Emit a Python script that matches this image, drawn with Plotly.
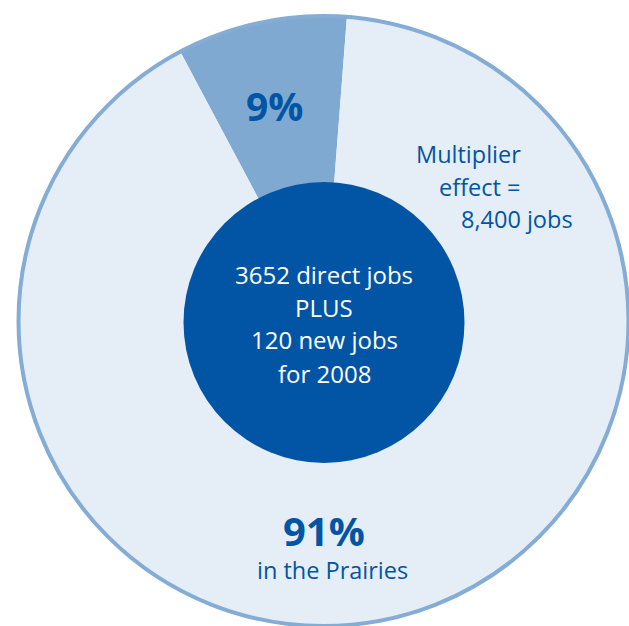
import plotly.graph_objects as go

# ---- data ----
labels = ["Outside the Prairies", "In the Prairies"]
values = [9, 91]
slice_colors = ["#80a9d1", "#e5eef7"]
pct_labels = ["9%", "91%"]
prairie_caption = "in the Prairies"
multiplier_lines = ["Multiplier", "effect =", "8,400 jobs"]
center_lines = ["3652 direct jobs", "PLUS", "120 new jobs", "for 2008"]

W, H = 629, 626
TEXT_BLUE = "#0055a5"
FONT = "Open Sans"


def px(x):
    return x / W


def py(y):
    return 1 - y / H


# pie geometry (pixels)
cx, cy, r = 323.5, 321.0, 305.0

fig = go.Figure()
fig.add_trace(go.Pie(
    labels=labels,
    values=values,
    sort=False,
    direction="clockwise",
    rotation=-28,
    marker=dict(colors=slice_colors, line=dict(width=0)),
    textinfo="none",
    hoverinfo="label+percent",
    showlegend=False,
    domain=dict(x=[px(cx - r - 0.5), 1.0], y=[0.0, py(cy - r)]),
))

shapes = [
    # outer border ring
    dict(type="circle", xref="paper", yref="paper",
         x0=px(cx - r), x1=px(cx + r), y0=py(cy + r), y1=py(cy - r),
         line=dict(color="#84acd5", width=4), fillcolor="rgba(0,0,0,0)"),
    # inner dark disc
    dict(type="circle", xref="paper", yref="paper",
         x0=px(183.5), x1=px(464.5), y0=py(463), y1=py(182),
         line=dict(width=0), fillcolor="#0255a5"),
]

annotations = []


def add_text(text, x, y, size, color, bold=False, xanchor="center"):
    annotations.append(dict(
        text=f"<b>{text}</b>" if bold else text,
        x=px(x), y=py(y), xref="paper", yref="paper",
        xanchor=xanchor, yanchor="middle", showarrow=False,
        font=dict(family=FONT, size=size, color=color),
    ))


add_text(pct_labels[0], 274.5, 105, 39, TEXT_BLUE, bold=True)
add_text(pct_labels[1], 324, 530, 40, TEXT_BLUE, bold=True)
add_text(prairie_caption, 332.5, 570, 23.5, TEXT_BLUE)

for line, x, y in zip(multiplier_lines, [468, 479.5, 517], [154, 187, 219]):
    add_text(line, x, y, 23.5, TEXT_BLUE)

for line, y in zip(center_lines, [274, 307, 340, 373]):
    add_text(line, 324, y, 24, "white")

fig.update_layout(
    width=W, height=H,
    margin=dict(l=0, r=0, t=0, b=0),
    paper_bgcolor="white",
    plot_bgcolor="white",
    shapes=shapes,
    annotations=annotations,
)

fig.write_html("out.html")
